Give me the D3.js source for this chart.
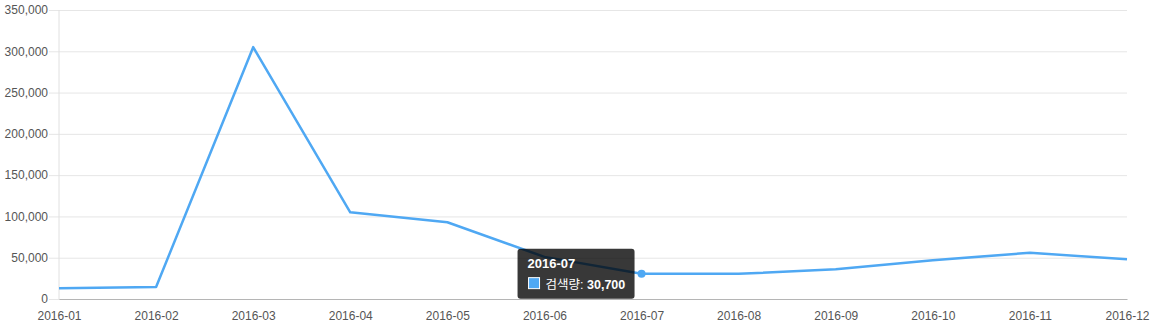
<!DOCTYPE html>
<html>
<head>
  <meta charset="UTF-8">
  <title>2016 검색량</title>
  <script src="https://d3js.org/d3.v7.min.js"></script>
  <style>
    body { margin: 0; background: #fff; }
    text { font-family: "Liberation Sans", Arial, "Noto Sans CJK KR", sans-serif; }
  </style>
</head>
<body>
  <div id="chart"></div>

  <script>
    const months = ["2016-01", "2016-02", "2016-03", "2016-04", "2016-05", "2016-06",
                    "2016-07", "2016-08", "2016-09", "2016-10", "2016-11", "2016-12"];
    const searches = [13000, 14500, 305000, 105000, 93000, 51000,
                      30700, 30500, 36000, 47000, 56000, 48000];
    const yTicks = [0, 50000, 100000, 150000, 200000, 250000, 300000, 350000];
    const seriesName = "검색량";
    const hoverIndex = 6;

    const margin = { top: 10, right: 25, bottom: 31, left: 59 };
    const width = 1152 - margin.left - margin.right;
    const height = 330 - margin.top - margin.bottom;

    const svg = d3.select("#chart")
      .append("svg")
      .attr("width", 1152)
      .attr("height", 330)
      .append("g")
      .attr("transform", "translate(" + margin.left + "," + margin.top + ")");

    const x = d3.scalePoint()
      .domain(months)
      .range([0, width]);

    const y = d3.scaleLinear()
      .domain([0, 350000])
      .range([height, 0]);

    // gridlines + y axis
    const yAxis = svg.append("g")
      .call(d3.axisLeft(y).tickValues(yTicks).tickSize(-width - 10).tickFormat(d3.format(",")).tickPadding(1));
    yAxis.select(".domain").remove();
    yAxis.selectAll(".tick line")
      .attr("x1", width)
      .attr("x2", -10)
      .attr("stroke", "#e6e6e6");
    yAxis.selectAll("text")
      .attr("x", -11)
      .attr("fill", "#555")
      .style("font-size", "12px");

    svg.append("line")
      .attr("x1", 0).attr("x2", 0)
      .attr("y1", 0).attr("y2", height)
      .attr("stroke", "#e0e0e0");

    // x axis
    const xAxis = svg.append("g")
      .attr("transform", "translate(0," + height + ")")
      .call(d3.axisBottom(x).tickSize(0).tickPadding(12));
    xAxis.select(".domain").attr("stroke", "#b5b5b5");
    xAxis.selectAll("text")
      .attr("fill", "#555")
      .style("font-size", "12px");

    const line = d3.line()
      .x((d, i) => x(months[i]))
      .y(d => y(d));

    svg.append("path")
      .datum(searches)
      .attr("fill", "none")
      .attr("stroke", "#4fa8f3")
      .attr("stroke-width", 2.5)
      .attr("stroke-linejoin", "round")
      .attr("d", line);

    const hx = x(months[hoverIndex]);
    const hy = y(searches[hoverIndex]);

    svg.append("circle")
      .attr("cx", hx)
      .attr("cy", hy)
      .attr("r", 4)
      .attr("fill", "#4fa8f3");

    // tooltip
    const tip = svg.append("g")
      .attr("transform", "translate(" + (hx - 124) + "," + (hy - 25) + ")");
    tip.append("rect")
      .attr("width", 117)
      .attr("height", 50)
      .attr("rx", 3)
      .attr("fill", "#000")
      .attr("fill-opacity", 0.78);
    tip.append("text")
      .attr("x", 10)
      .attr("y", 19)
      .attr("fill", "#fff")
      .style("font-size", "13px")
      .style("font-weight", "bold")
      .text(months[hoverIndex]);
    tip.append("rect")
      .attr("x", 11)
      .attr("y", 29)
      .attr("width", 11)
      .attr("height", 11)
      .attr("fill", "#4fa8f3")
      .attr("stroke", "#fff")
      .attr("stroke-width", 1);
    const label = tip.append("text")
      .attr("x", 28)
      .attr("y", 40)
      .attr("fill", "#fff")
      .style("font-size", "12.5px");
    label.append("tspan").text(seriesName + ": ");
    label.append("tspan").style("font-weight", "bold").text(d3.format(",")(searches[hoverIndex]));
  </script>
</body>
</html>
